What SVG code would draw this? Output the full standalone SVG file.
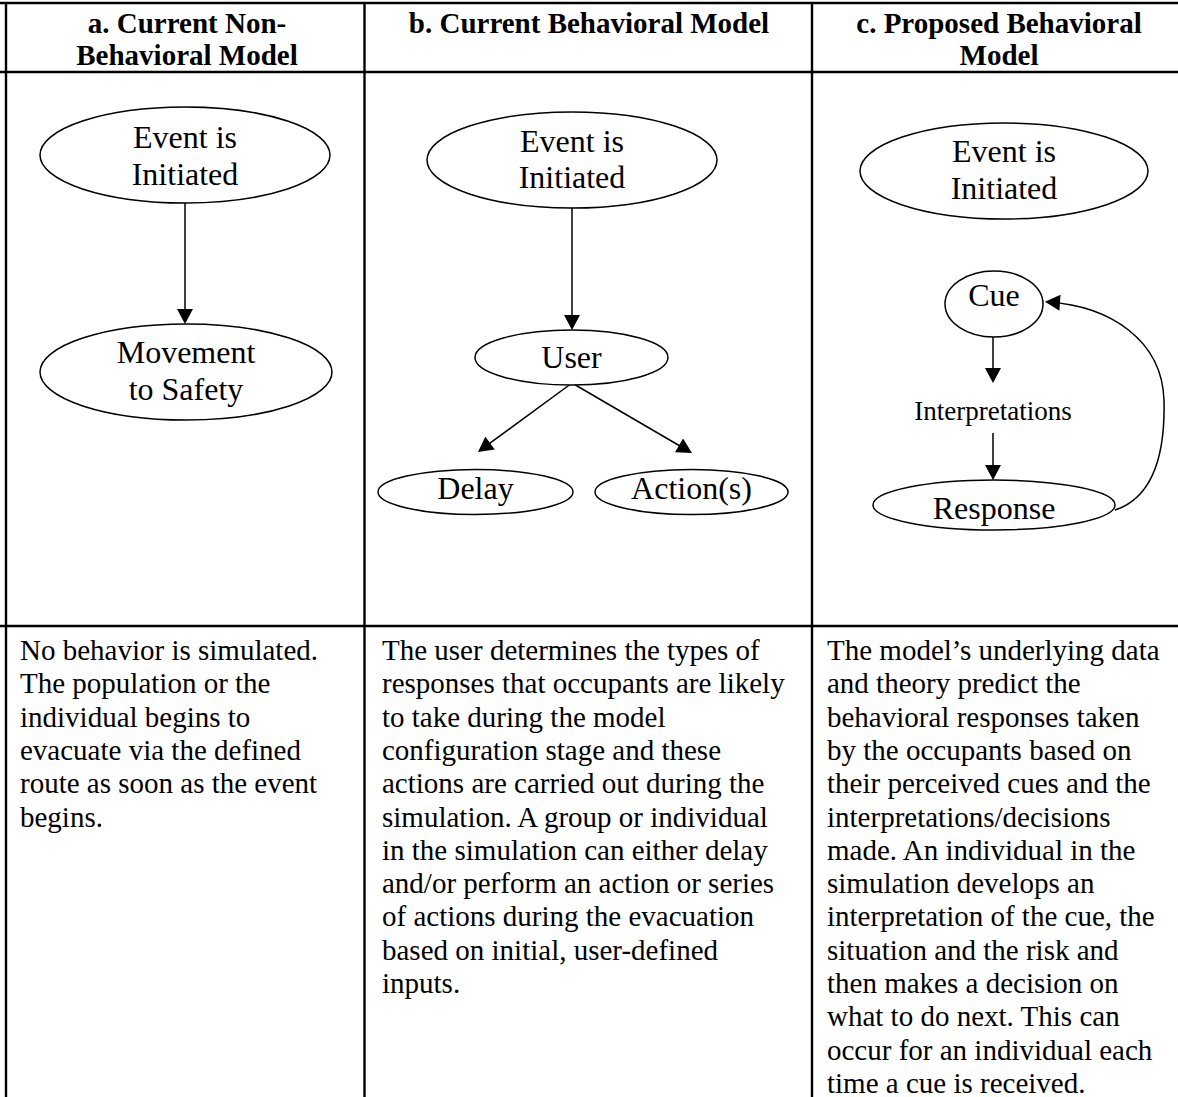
<svg xmlns="http://www.w3.org/2000/svg" width="1178" height="1097" viewBox="0 0 1178 1097">
<style>
.grid{stroke:#000;stroke-width:2.4;fill:none}
.node{fill:#fff;stroke:#000;stroke-width:1.5}
.lbl{font-family:"Liberation Serif","Times New Roman",serif;font-size:32px;fill:#000;text-anchor:middle}
.hd{font-family:"Liberation Serif","Times New Roman",serif;font-size:29px;font-weight:bold;fill:#000;text-anchor:middle}
.body{font-family:"Liberation Serif","Times New Roman",serif;font-size:29px;fill:#000}
.edge{stroke:#000;stroke-width:1.5;fill:none;marker-end:url(#ah)}
</style>
<defs>
<marker id="ah" markerUnits="userSpaceOnUse" markerWidth="16" markerHeight="16" viewBox="0 0 15 16" refX="12" refY="8" orient="auto">
<path d="M0,0 L15,8 L0,16 z" fill="#000"/>
</marker>
</defs>
<rect width="1178" height="1097" fill="#fff"/>
<g id="table">
<line class="grid" x1="0" y1="3" x2="1178" y2="3"/>
<line class="grid" x1="0" y1="72" x2="1178" y2="72"/>
<line class="grid" x1="0" y1="626" x2="1178" y2="626"/>
<line class="grid" x1="6" y1="2" x2="6" y2="1097"/>
<line class="grid" x1="364.5" y1="2" x2="364.5" y2="1097"/>
<line class="grid" x1="812" y1="2" x2="812" y2="1097"/>
</g>
<g id="headers">
<text class="hd" x="187" y="33">a. Current Non-</text>
<text class="hd" x="187" y="65">Behavioral Model</text>
<text class="hd" x="589" y="33">b. Current Behavioral Model</text>
<text class="hd" x="999" y="33">c. Proposed Behavioral</text>
<text class="hd" x="999" y="65">Model</text>
</g>
<g id="connectors">
<line class="edge" x1="185" y1="203" x2="185" y2="321"/>
<line class="edge" x1="572" y1="208" x2="572" y2="327"/>
<line class="edge" x1="572" y1="383" x2="480.4" y2="450.2"/>
<line class="edge" x1="572" y1="383" x2="689.4" y2="451.5"/>
<line class="edge" x1="993" y1="337" x2="993" y2="380"/>
<line class="edge" x1="993" y1="433" x2="993" y2="477"/>
<path class="edge" d="M1115,510 C1160,495 1165,440 1164,400 C1162,340 1110,306 1048,302"/>
</g>
<g id="a-event">
<ellipse class="node" cx="185" cy="155" rx="145" ry="48"/>
<text class="lbl" x="185" y="148">Event is</text>
<text class="lbl" x="185" y="185">Initiated</text>
</g>
<g id="a-movement">
<ellipse class="node" cx="186" cy="372" rx="146" ry="48"/>
<text class="lbl" x="186" y="363">Movement</text>
<text class="lbl" x="186" y="400">to Safety</text>
</g>
<g id="b-event">
<ellipse class="node" cx="572" cy="160" rx="145" ry="48"/>
<text class="lbl" x="572" y="152">Event is</text>
<text class="lbl" x="572" y="188">Initiated</text>
</g>
<g id="b-user">
<ellipse class="node" cx="571.5" cy="357.5" rx="96.5" ry="27.5"/>
<text class="lbl" x="571.5" y="368">User</text>
</g>
<g id="b-delay">
<ellipse class="node" cx="475.5" cy="492" rx="97.5" ry="22.5"/>
<text class="lbl" x="475.5" y="499">Delay</text>
</g>
<g id="b-action">
<ellipse class="node" cx="691.5" cy="492" rx="96.5" ry="22.5"/>
<text class="lbl" x="691.5" y="499">Action(s)</text>
</g>
<g id="c-event">
<ellipse class="node" cx="1004" cy="171" rx="144" ry="48"/>
<text class="lbl" x="1004" y="162">Event is</text>
<text class="lbl" x="1004" y="199">Initiated</text>
</g>
<g id="c-cue">
<ellipse class="node" cx="994" cy="304" rx="49" ry="33"/>
<text class="lbl" x="994" y="306">Cue</text>
</g>
<g id="c-interpretations">
<text class="lbl" x="993" y="420" style="font-size:27px">Interpretations</text>
</g>
<g id="c-response">
<ellipse class="node" cx="994" cy="505" rx="121" ry="25"/>
<text class="lbl" x="994" y="519">Response</text>
</g>
<g id="descriptions">
<text class="body">
<tspan x="20" y="660">No behavior is simulated.</tspan>
<tspan x="20" y="693.3">The population or the</tspan>
<tspan x="20" y="726.6">individual begins to</tspan>
<tspan x="20" y="759.9">evacuate via the defined</tspan>
<tspan x="20" y="793.2">route as soon as the event</tspan>
<tspan x="20" y="826.5">begins.</tspan>
</text>
<text class="body">
<tspan x="382" y="660">The user determines the types of</tspan>
<tspan x="382" y="693.3">responses that occupants are likely</tspan>
<tspan x="382" y="726.6">to take during the model</tspan>
<tspan x="382" y="759.9">configuration stage and these</tspan>
<tspan x="382" y="793.2">actions are carried out during the</tspan>
<tspan x="382" y="826.5">simulation. A group or individual</tspan>
<tspan x="382" y="859.8">in the simulation can either delay</tspan>
<tspan x="382" y="893.1">and/or perform an action or series</tspan>
<tspan x="382" y="926.4">of actions during the evacuation</tspan>
<tspan x="382" y="959.7">based on initial, user-defined</tspan>
<tspan x="382" y="993">inputs.</tspan>
</text>
<text class="body">
<tspan x="827" y="660">The model’s underlying data</tspan>
<tspan x="827" y="693.3">and theory predict the</tspan>
<tspan x="827" y="726.6">behavioral responses taken</tspan>
<tspan x="827" y="759.9">by the occupants based on</tspan>
<tspan x="827" y="793.2">their perceived cues and the</tspan>
<tspan x="827" y="826.5">interpretations/decisions</tspan>
<tspan x="827" y="859.8">made. An individual in the</tspan>
<tspan x="827" y="893.1">simulation develops an</tspan>
<tspan x="827" y="926.4">interpretation of the cue, the</tspan>
<tspan x="827" y="959.7">situation and the risk and</tspan>
<tspan x="827" y="993">then makes a decision on</tspan>
<tspan x="827" y="1026.3">what to do next. This can</tspan>
<tspan x="827" y="1059.6">occur for an individual each</tspan>
<tspan x="827" y="1092.9">time a cue is received.</tspan>
</text>
</g>
</svg>
